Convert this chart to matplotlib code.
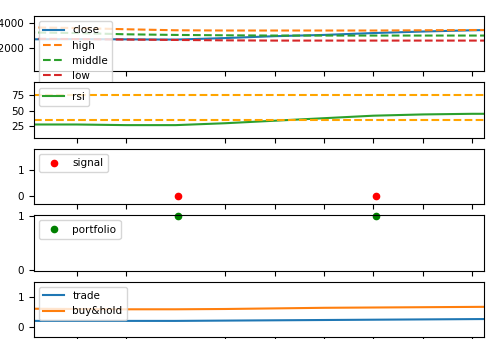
import numpy as np
import matplotlib.pyplot as plt

plt.rcParams['font.size'] = 7.5

# данные
x = np.arange(11)
close = [12700, 12720, 12700, 12680, 12800, 12950, 13050, 13200, 13320, 13420, 13480]
high = [13650, 13600, 13500, 13420, 13400, 13400, 13400, 13400, 13420, 13440, 13450]
middle = [13250, 13200, 13100, 13050, 13020, 13000, 13000, 13000, 13000, 13000, 13000]
low = [12750, 12720, 12680, 12650, 12620, 12600, 12600, 12600, 12600, 12600, 12600]
rsi = [28, 28, 27, 27, 30, 34, 38, 42, 44, 45, 45]
rsi_high = 75
rsi_low = 35
signal_x = [3.05, 7.05]
signal = [0, 0]
portfolio = [1, 1]
trade = [0.21, 0.21, 0.21, 0.21, 0.22, 0.23, 0.24, 0.25, 0.26, 0.27, 0.28]
buy_hold = [0.62, 0.61, 0.60, 0.60, 0.61, 0.63, 0.65, 0.66, 0.67, 0.68, 0.69]
ticks = [1, 2, 4, 5, 6, 7, 8, 9]

fig, ax = plt.subplots(5, 1, figsize=(4.9, 3.39), dpi=100, sharex=True)
fig.subplots_adjust(left=0.069, right=0.988, top=0.953, bottom=0.006, hspace=0.2)

# цены и полосы
ax[0].plot(x, close, color='tab:blue', label='close')
ax[0].plot(x, high, '--', color='tab:orange', label='high')
ax[0].plot(x, middle, '--', color='tab:green', label='middle')
ax[0].plot(x, low, '--', color='tab:red', label='low')
ax[0].set_ylim(10160, 14560)
ax[0].set_yticks([12000, 14000])
ax[0].legend(loc='upper left')

# rsi
ax[1].plot(x, rsi, color='tab:green', label='rsi')
ax[1].axhline(rsi_high, color='orange', linestyle='--')
ax[1].axhline(rsi_low, color='orange', linestyle='--')
ax[1].set_ylim(7, 95)
ax[1].set_yticks([25, 50, 75])
ax[1].legend(loc='upper left')

# сигналы
ax[2].plot(signal_x, signal, 'o', color='red', markersize=4.5, label='signal')
ax[2].set_ylim(-0.32, 1.82)
ax[2].set_yticks([0, 1])
ax[2].legend(loc='upper left')

# портфель
ax[3].plot(signal_x, portfolio, 'o', color='green', markersize=4.5, label='portfolio', clip_on=False)
ax[3].set_ylim(-0.01, 1.02)
ax[3].set_yticks([0, 1])
ax[3].legend(loc='upper left')

# доходность
ax[4].plot(x, trade, color='tab:blue', label='trade')
ax[4].plot(x, buy_hold, color='tab:orange', label='buy&hold')
ax[4].set_ylim(-0.33, 1.53)
ax[4].set_yticks([0, 1])
ax[4].legend(loc='upper left')

for a in ax:
    a.set_xlim(0.13, 9.24)
    a.set_xticks(ticks)
    a.tick_params(labelbottom=False)

plt.savefig('out.png')
